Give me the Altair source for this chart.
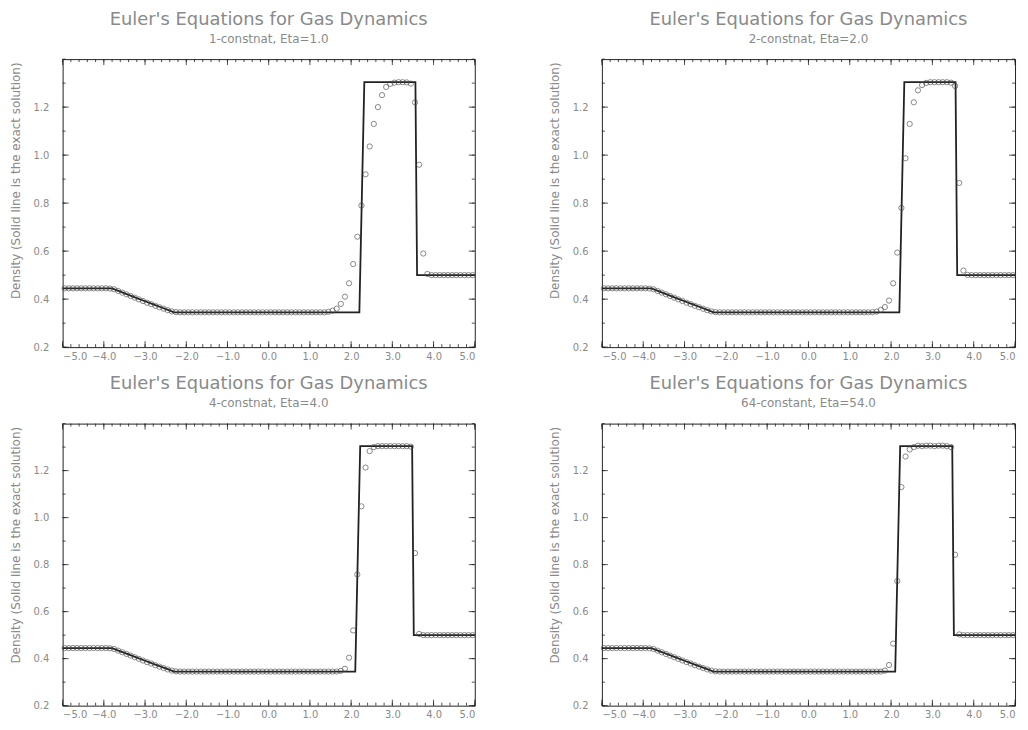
import altair as alt
import pandas as pd

# ---------------- data ----------------
# cell centres of the numerical solution
x_grid = [-4.95, -4.85, -4.75, -4.65, -4.55, -4.45, -4.35, -4.25, -4.15, -4.05,
          -3.95, -3.85, -3.75, -3.65, -3.55, -3.45, -3.35, -3.25, -3.15, -3.05,
          -2.95, -2.85, -2.75, -2.65, -2.55, -2.45, -2.35, -2.25, -2.15, -2.05,
          -1.95, -1.85, -1.75, -1.65, -1.55, -1.45, -1.35, -1.25, -1.15, -1.05,
          -0.95, -0.85, -0.75, -0.65, -0.55, -0.45, -0.35, -0.25, -0.15, -0.05,
          0.05, 0.15, 0.25, 0.35, 0.45, 0.55, 0.65, 0.75, 0.85, 0.95,
          1.05, 1.15, 1.25, 1.35, 1.45, 1.55, 1.65, 1.75, 1.85, 1.95,
          2.05, 2.15, 2.25, 2.35, 2.45, 2.55, 2.65, 2.75, 2.85, 2.95,
          3.05, 3.15, 3.25, 3.35, 3.45, 3.55, 3.65, 3.75, 3.85, 3.95,
          4.05, 4.15, 4.25, 4.35, 4.45, 4.55, 4.65, 4.75, 4.85, 4.95]

# shared left part (x = -4.95 .. 1.35) of the numerical density
rho_left = [0.445, 0.445, 0.445, 0.445, 0.445, 0.445, 0.445, 0.445, 0.445, 0.445,
            0.445, 0.444, 0.441, 0.434, 0.427, 0.420, 0.413, 0.406, 0.399, 0.392,
            0.385, 0.379, 0.372, 0.366, 0.360, 0.354, 0.349, 0.346, 0.345, 0.345,
            0.345, 0.345, 0.345, 0.345, 0.345, 0.345, 0.345, 0.345, 0.345, 0.345,
            0.345, 0.345, 0.345, 0.345, 0.345, 0.345, 0.345, 0.345, 0.345, 0.345,
            0.345, 0.345, 0.345, 0.345, 0.345, 0.345, 0.345, 0.345, 0.345, 0.345,
            0.345, 0.345, 0.345, 0.345]

# right part (x = 1.45 .. 4.95) for each run
rho_right_eta1 = [0.347, 0.352, 0.360, 0.380, 0.410, 0.466, 0.546, 0.660, 0.790, 0.920,
                  1.036, 1.130, 1.200, 1.250, 1.284, 1.297, 1.302, 1.304, 1.304, 1.303,
                  1.298, 1.220, 0.960, 0.590, 0.505, 0.500, 0.500, 0.500, 0.500, 0.500,
                  0.500, 0.500, 0.500, 0.500, 0.500, 0.500]
rho_right_eta2 = [0.345, 0.346, 0.348, 0.355, 0.367, 0.394, 0.466, 0.594, 0.780, 0.987,
                  1.130, 1.220, 1.270, 1.292, 1.301, 1.304, 1.304, 1.304, 1.304, 1.304,
                  1.302, 1.288, 0.884, 0.519, 0.501, 0.500, 0.500, 0.500, 0.500, 0.500,
                  0.500, 0.500, 0.500, 0.500, 0.500, 0.500]
rho_right_eta4 = [0.345, 0.345, 0.345, 0.348, 0.357, 0.404, 0.520, 0.758, 1.048, 1.213,
                  1.283, 1.300, 1.304, 1.304, 1.304, 1.304, 1.304, 1.304, 1.304, 1.304,
                  1.302, 0.849, 0.505, 0.500, 0.500, 0.500, 0.500, 0.500, 0.500, 0.500,
                  0.500, 0.500, 0.500, 0.500, 0.500, 0.500]
rho_right_eta64 = [0.345, 0.345, 0.345, 0.345, 0.349, 0.373, 0.464, 0.730, 1.130, 1.260,
                   1.290, 1.300, 1.306, 1.304, 1.306, 1.306, 1.304, 1.306, 1.306, 1.304,
                   1.300, 0.842, 0.503, 0.500, 0.500, 0.500, 0.500, 0.500, 0.500, 0.500,
                   0.500, 0.500, 0.500, 0.500, 0.500, 0.500]

# exact solutions (polylines), top row and bottom row
x_exact_top = [-5.0, -3.8, -3.6, -3.4, -3.2, -3.0, -2.8, -2.6, -2.4, -2.3,
               2.2, 2.32, 3.56, 3.6, 5.0]
x_exact_bot = [-5.0, -3.8, -3.6, -3.4, -3.2, -3.0, -2.8, -2.6, -2.4, -2.3,
               2.1, 2.22, 3.48, 3.52, 5.0]
rho_exact = [0.445, 0.445, 0.431, 0.418, 0.404, 0.391, 0.378, 0.365, 0.352, 0.345,
             0.345, 1.304, 1.304, 0.500, 0.500]

titles = ["Euler's Equations for Gas Dynamics"] * 4
subtitles = ["1-constnat, Eta=1.0", "2-constnat, Eta=2.0",
             "4-constnat, Eta=4.0", "64-constant, Eta=54.0"]
y_title = "Density (Solid line is the exact solution)"

x_major = [-5.0, -4.0, -3.0, -2.0, -1.0, 0.0, 1.0, 2.0, 3.0, 4.0, 5.0]
y_major = [0.2, 0.4, 0.6, 0.8, 1.0, 1.2]
x_minor = [round(-5.0 + 0.2 * i, 1) for i in range(51)]
y_minor = [round(0.2 + 0.1 * i, 1) for i in range(13)]

# ---------------- styling ----------------
FONT = "DejaVu Sans"
GRAY = "#8a8a8a"
INK = "#222222"


def panel(rho_num, x_ex, title, subtitle, w, h):
    xs = alt.Scale(domain=[-5, 5], nice=False, zero=False)
    ys = alt.Scale(domain=[0.2, 1.4], nice=False, zero=False)
    num = pd.DataFrame({"x": x_grid, "rho": rho_num})
    ex = pd.DataFrame({"x": x_ex, "rho": rho_exact})
    xa = alt.Axis(values=x_major, format=".1f", ticks=False, domain=False, grid=False,
                  labelFont=FONT, labelFontSize=10, labelColor=GRAY, labelPadding=4,
                  labelOverlap=False, title=None)
    ya = alt.Axis(values=y_major, format=".1f", ticks=False, domain=False, grid=False,
                  labelFont=FONT, labelFontSize=10, labelColor=GRAY, labelPadding=14,
                  title=y_title, titleFont=FONT, titleFontSize=12, titleColor=GRAY,
                  titleFontWeight="normal", titlePadding=11, titleY=122)
    line = alt.Chart(ex).mark_line(color=INK, strokeWidth=1.8).encode(
        x=alt.X("x:Q", scale=xs, axis=xa), y=alt.Y("rho:Q", scale=ys, axis=ya))
    pts = alt.Chart(num).mark_point(shape="circle", filled=False, color="#444444",
                                    size=28, strokeWidth=0.9).encode(
        x=alt.X("x:Q", scale=xs), y=alt.Y("rho:Q", scale=ys))
    xmaj = pd.DataFrame({"t": x_major})
    xmin = pd.DataFrame({"t": x_minor})
    ymaj = pd.DataFrame({"t": y_major})
    ymin = pd.DataFrame({"t": y_minor})
    tk = dict(color=INK, strokeWidth=0.8)
    ticks = [
        alt.Chart(xmin).mark_rule(**tk).encode(x=alt.X("t:Q", scale=xs), y=alt.value(h), y2=alt.value(h - 3)),
        alt.Chart(xmaj).mark_rule(**tk).encode(x=alt.X("t:Q", scale=xs), y=alt.value(h), y2=alt.value(h - 6)),
        alt.Chart(xmin).mark_rule(**tk).encode(x=alt.X("t:Q", scale=xs), y=alt.value(0), y2=alt.value(3)),
        alt.Chart(xmaj).mark_rule(**tk).encode(x=alt.X("t:Q", scale=xs), y=alt.value(0), y2=alt.value(6)),
        alt.Chart(ymin).mark_rule(**tk).encode(y=alt.Y("t:Q", scale=ys), x=alt.value(0), x2=alt.value(3)),
        alt.Chart(ymaj).mark_rule(**tk).encode(y=alt.Y("t:Q", scale=ys), x=alt.value(0), x2=alt.value(6)),
        alt.Chart(ymin).mark_rule(**tk).encode(y=alt.Y("t:Q", scale=ys), x=alt.value(w), x2=alt.value(w - 3)),
        alt.Chart(ymaj).mark_rule(**tk).encode(y=alt.Y("t:Q", scale=ys), x=alt.value(w), x2=alt.value(w - 6)),
    ]
    return alt.layer(line, pts, *ticks).properties(
        width=w, height=h,
        title=alt.TitleParams(text=title, subtitle=subtitle, font=FONT, fontSize=18,
                              fontWeight="normal", color=GRAY, subtitleFont=FONT,
                              subtitleFontSize=12, subtitleColor=GRAY,
                              subtitlePadding=5, offset=14, anchor="middle"))


tl = panel(rho_left + rho_right_eta1, x_exact_top, titles[0], subtitles[0], 415, 290)
tr = panel(rho_left + rho_right_eta2, x_exact_top, titles[1], subtitles[1], 416, 290)
bl = panel(rho_left + rho_right_eta4, x_exact_bot, titles[2], subtitles[2], 415, 284)
br = panel(rho_left + rho_right_eta64, x_exact_bot, titles[3], subtitles[3], 416, 284)

chart = alt.vconcat(
    alt.hconcat(tl, tr, spacing=68),
    alt.hconcat(bl, br, spacing=68),
    spacing=13,
).properties(padding=0).configure_view(stroke=INK, strokeWidth=1)

chart.save("out.html", embed_options={"renderer": "svg", "actions": False})
